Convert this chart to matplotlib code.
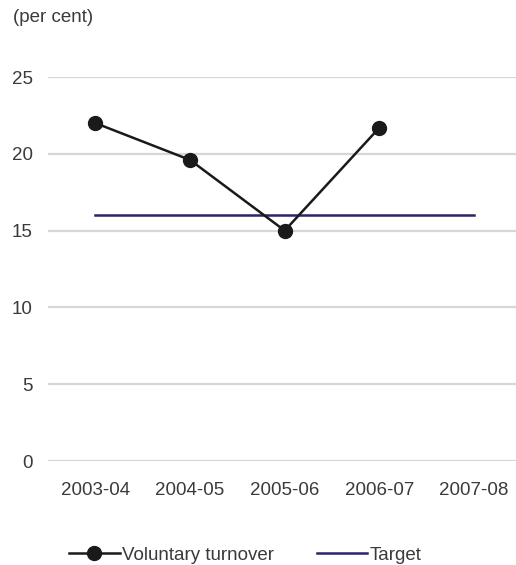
import matplotlib
matplotlib.use("Agg")
import matplotlib.pyplot as plt

categories = ["2003-04", "2004-05", "2005-06", "2006-07", "2007-08"]
turnover = [22.0, 19.6, 15.0, 21.7]
target = [16, 16, 16, 16, 16]
yticks = [0, 5, 10, 15, 20, 25]

plt.rcParams['font.family'] = ['Liberation Sans', 'DejaVu Sans']
txt = '#3a3a3a'
fs = 13.5

fig = plt.figure(figsize=(5.16, 5.65), dpi=100)
ax = fig.add_axes([48/516, 104/565, 1 - 48/516, 384/565])

x = list(range(len(categories)))
ax.set_yticks(yticks)
ax.yaxis.grid(True, color='#d6d6d6', linewidth=1.6)
ax.set_axisbelow(True)

ax.plot(x, target, color='#2b2468', linewidth=1.8, label='Target', zorder=3)
ax.plot(x[:len(turnover)], turnover, color='#1a1a1a', linewidth=1.8, marker='o',
        markersize=10, markerfacecolor='#1a1a1a', label='Voluntary turnover', zorder=4)

ax.set_xlim(-0.5, 4.443)
ax.set_ylim(0, 25)
ax.set_xticks(x)
ax.set_xticklabels(categories)
for s in ax.spines.values():
    s.set_visible(False)
ax.tick_params(axis='both', length=0, labelsize=fs, colors=txt)
ax.tick_params(axis='x', pad=15)
ax.tick_params(axis='y', pad=11)

fig.text(13/516, 1 - 17/565, '(per cent)', fontsize=fs, color=txt, va='center', ha='left')

h, l = ax.get_legend_handles_labels()
leg = fig.legend([h[1], h[0]], [l[1], l[0]], loc='center', bbox_to_anchor=(245/516, 1 - 555/565),
                 ncol=2, frameon=False, fontsize=fs, handlelength=2.7, handletextpad=0.1,
                 columnspacing=2.3, labelcolor=txt)

fig.savefig('out.png', dpi=100)
